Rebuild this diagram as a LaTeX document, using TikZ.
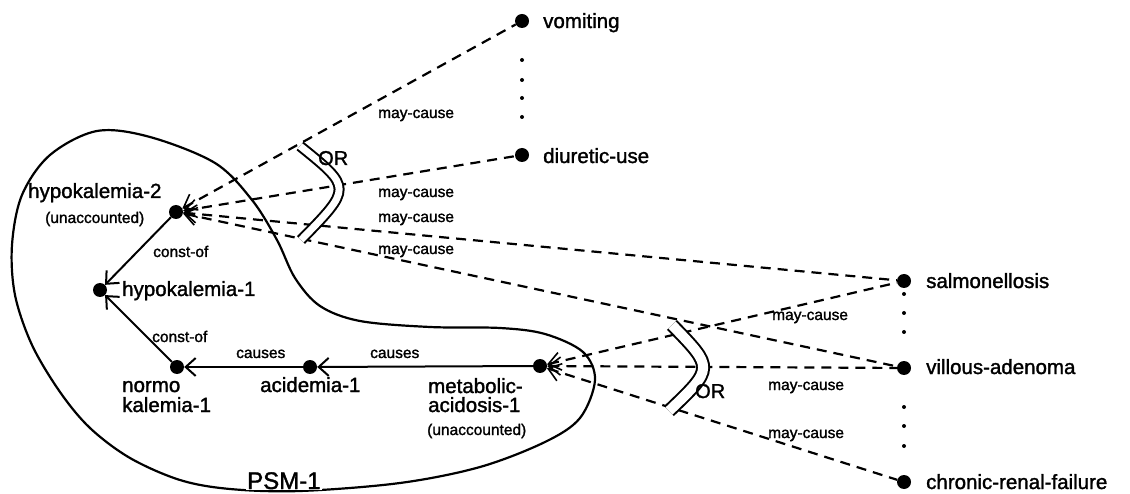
\documentclass[tikz,border=0pt]{standalone}
\usepackage{fontspec}
\setmainfont{Liberation Sans}[FakeBold=1.5]
\usetikzlibrary{arrows.meta}
\begin{document}
\begin{tikzpicture}[x=1pt,y=-1pt,
  dot/.style={circle,fill=black,inner sep=0pt,minimum size=14pt},
  sdot/.style={circle,fill=black,inner sep=0pt,minimum size=4pt},
  big/.style={font=\fontsize{20.5}{20}\selectfont, inner sep=0pt, anchor=base west},
  small/.style={font=\fontsize{15.5}{16}\selectfont, inner sep=0pt, anchor=base west},
  rel/.style={line width=2pt, -{Straight Barb[length=10pt,width=18pt,line width=2pt]}},
  may/.style={line width=2.2pt, dash pattern=on 10pt off 7pt, {Straight Barb[length=12pt,width=18pt,line width=1.6pt]}-},
  orarc/.style={line width=2pt, double, double distance=#1},
]
\useasboundingbox (0,0) rectangle (1130,494);

% PSM-1 boundary
\draw[line width=2.2pt] plot[smooth cycle, tension=0.55] coordinates {
 (97,131) (150,137) (215,163) (252,200) (277,240) (295,278) (320,306) (360,321)
 (430,327) (500,328) (545,334) (583,352) (595,380) (580,418) (545,442) (480,467)
 (400,483) (300,491) (230,489) (180,480) (130,458) (90,428) (60,392) (32,345)
 (15,295) (12,245) (22,195) (50,155)};
\node[font=\fontsize{24}{24}\selectfont, fill=white, inner sep=1pt, anchor=base west] (psm) at (246,489) {PSM-1};

% dots
\node[dot] (vom) at (522,21) {};
\node[dot] (diu) at (522,155) {};
\node[dot] (hk2) at (176,212) {};
\node[dot] (hk1) at (100,290) {};
\node[dot] (nk) at (177,367) {};
\node[dot] (ac) at (310,367) {};
\node[dot] (ma) at (540,366) {};
\node[dot] (sal) at (904,281) {};
\node[dot] (vil) at (904,368) {};
\node[dot] (crf) at (904,482) {};

% ellipsis dots
\foreach \yy [count=\i] in {60,80,98,117} \node[sdot] (ua\i) at (522,\yy) {};
\foreach \yy [count=\i] in {294,313,332} \node[sdot] (ra\i) at (904,\yy) {};
\foreach \yy [count=\i] in {407,426,446} \node[sdot] (rb\i) at (904,\yy) {};

% node labels
\node[big] (lvom) at (543,28) {vomiting};
\node[big] (ldiu) at (543,163) {diuretic-use};
\node[big] (lhk2) at (28,198) {hypokalemia-2};
\node[small] (uhk2) at (45,223) {(unaccounted)};
\node[big] (lhk1) at (122,296) {hypokalemia-1};
\node[big] (lnk1) at (122,392) {normo};
\node[big] (lnk2) at (122,412) {kalemia-1};
\node[big] (lac) at (260,392) {acidemia-1};
\node[big] (lma1) at (428,393) {metabolic-};
\node[big] (lma2) at (428,412) {acidosis-1};
\node[small] (uma) at (427,435) {(unaccounted)};
\node[big] (lsal) at (926,288) {salmonellosis};
\node[big] (lvil) at (926,374) {villous-adenoma};
\node[big] (lcrf) at (926,489) {chronic-renal-failure};

% solid relations
\draw[rel] (hk2) -- (hk1);
\draw[rel] (nk) -- (hk1);
\draw[rel] (ac) -- (nk);
\draw[rel] (ma) -- (ac);
\node[small] (c1) at (153,257) {const-of};
\node[small] (c2) at (152,342) {const-of};
\node[small] (ca1) at (236,358) {causes};
\node[small] (ca2) at (370,358) {causes};

% may-cause edges
\draw[may] (hk2) -- (vom);
\draw[may] (hk2) -- (diu);
\draw[may] (hk2) -- (sal);
\draw[may] (hk2) -- (vil);
\draw[may] (ma) -- (sal);
\draw[may] (ma) -- (vil);
\draw[may] (ma) -- (crf);

\node[small] (m1) at (378,118) {may-cause};
\node[small] (m2) at (378,197) {may-cause};
\node[small] (m3) at (378,222) {may-cause};
\node[small] (m4) at (378,254) {may-cause};
\node[small] (m5) at (772,320) {may-cause};
\node[small] (m6) at (768,390) {may-cause};
\node[small] (m7) at (768,438) {may-cause};

% OR arcs
\draw[orarc=7pt] (300,146) .. controls (352,188) .. (301,240);
\node[font=\fontsize{20}{20}\selectfont, inner sep=0pt, anchor=base west] (or1) at (318,165) {OR};
\draw[orarc=10pt] (672,325) .. controls (714,368) .. (669,411);
\node[font=\fontsize{20}{20}\selectfont, inner sep=0pt, anchor=base west] (or2) at (695,398) {OR};
\end{tikzpicture}
\end{document}
